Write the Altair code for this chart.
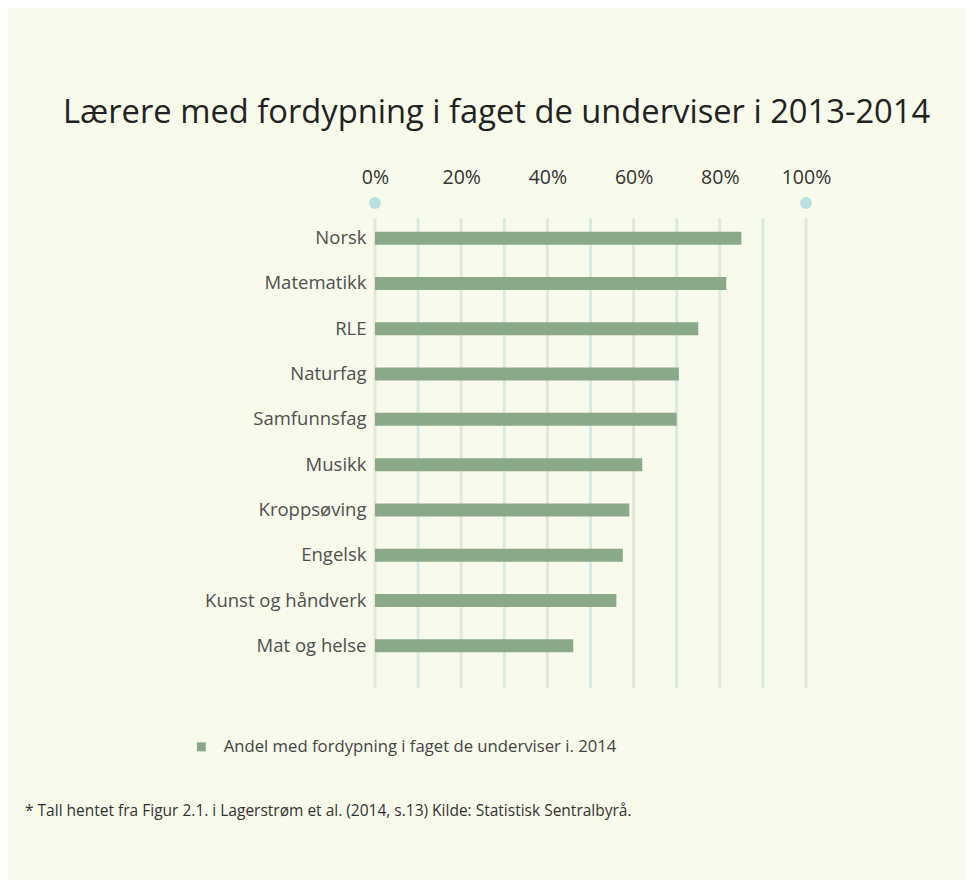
import altair as alt
import pandas as pd

subjects = ["Norsk", "Matematikk", "RLE", "Naturfag", "Samfunnsfag", "Musikk",
            "Kroppsøving", "Engelsk", "Kunst og håndverk", "Mat og helse"]
values = [85, 81.5, 75, 70.5, 70, 62, 59, 57.5, 56, 46]
series_name = "Andel med fordypning i faget de underviser i. 2014"
tick_values = [0, 20, 40, 60, 80, 100]
grid_even = [0, 20, 40, 60, 80, 100]
grid_odd = [10, 30, 50, 70, 90]
dot_values = [0, 100]
title_text = "Lærere med fordypning i faget de underviser i 2013-2014"
footnote = "* Tall hentet fra Figur 2.1. i Lagerstrøm et al. (2014, s.13) Kilde: Statistisk Sentralbyrå."

FONT = "Open Sans"
BG = "#f8faeb"
BAR = "#8aa988"

bars_df = pd.DataFrame({"fag": subjects, "andel": values, "serie": series_name})
even_df = pd.DataFrame({"v": grid_even})
odd_df = pd.DataFrame({"v": grid_odd})
dots_df = pd.DataFrame({"v": dot_values})
note_df = pd.DataFrame({"t": [footnote]})

W, H = 431, 453
xscale = alt.Scale(domain=[0, 100])
xaxis = alt.Axis(orient="top", values=tick_values, labelExpr="datum.value + '%'",
                 title=None, grid=False, domain=False, ticks=False, labelFlush=False,
                 labelPadding=28, labelFontSize=19.5, labelColor="#333333",
                 labelFont=FONT)

grid_gray = alt.Chart(even_df).mark_rule(color="#e4e6da", strokeWidth=3).encode(
    x=alt.X("v:Q", scale=xscale, axis=xaxis),
    y=alt.value(2.5), y2=alt.value(472.5))
grid_blue = alt.Chart(odd_df).mark_rule(color="#d7ebe3", strokeWidth=3).encode(
    x=alt.X("v:Q", scale=xscale, axis=xaxis),
    y=alt.value(2.5), y2=alt.value(472.5))

dots = alt.Chart(dots_df).mark_circle(color="#b9e0e0", opacity=1, size=140).encode(
    x=alt.X("v:Q", scale=xscale, axis=xaxis),
    y=alt.value(-12.5))

bars = alt.Chart(bars_df).mark_bar(size=13).encode(
    x=alt.X("andel:Q", scale=xscale, axis=xaxis),
    y=alt.Y("fag:N", sort=subjects,
            scale=alt.Scale(paddingInner=0, paddingOuter=0),
            axis=alt.Axis(title=None, domain=False, ticks=False, labelPadding=9,
                          labelFontSize=18.5, labelColor="#505050", labelFont=FONT)),
    color=alt.Color("serie:N", scale=alt.Scale(range=[BAR]),
                    legend=alt.Legend(title=None, orient="none", legendX=-182, legendY=523,
                                      symbolType="square", symbolSize=80, symbolStrokeWidth=0,
                                      labelFontSize=16.7, labelColor="#444444", labelFont=FONT,
                                      labelOffset=14, padding=0, labelLimit=0)),
)

note = alt.Chart(note_df).mark_text(align="left", baseline="alphabetic", fontSize=15.5,
                                     font=FONT, color="#333333").encode(
    x=alt.value(-350), y=alt.value(600), text="t:N")

chart = alt.layer(grid_gray, grid_blue, bars, dots, note).properties(
    width=W, height=H,
    title=alt.TitleParams(title_text, anchor="start", frame="group", dx=-312, dy=-34,
                          fontSize=32.7, font=FONT, fontWeight="normal", color="#222222"),
    autosize=alt.AutoSizeParams(type="none"),
    padding={"left": 367, "top": 207.5, "right": 160, "bottom": 211.5},
    background=BG,
).configure_view(stroke=None)

chart.save("out.html", embed_options={"renderer": "svg", "actions": False})
